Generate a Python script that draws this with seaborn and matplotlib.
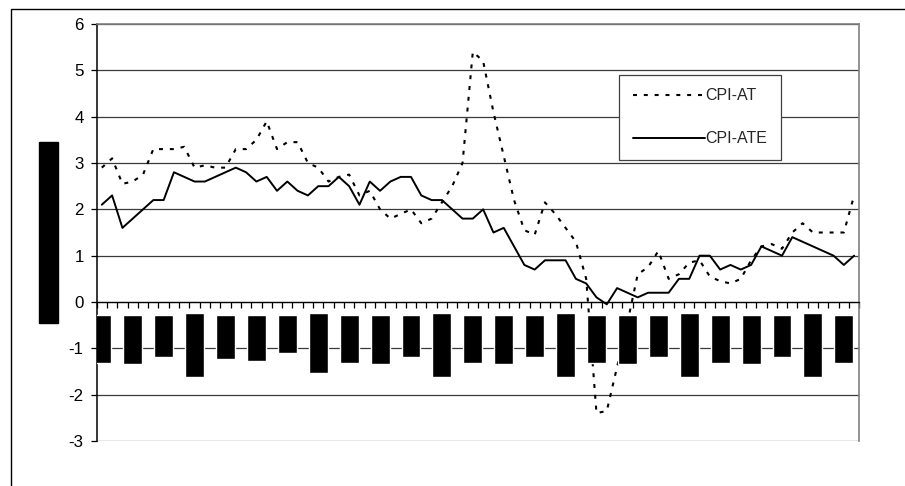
import numpy as np
import pandas as pd
import matplotlib
matplotlib.use('Agg')
import matplotlib.pyplot as plt
from matplotlib.patches import Rectangle
import seaborn as sns

# one value per month
cpi_at = [2.9, 3.1, 2.55, 2.6, 2.75, 3.3, 3.3, 3.3, 3.35, 2.9,
          2.95, 2.9, 2.9, 3.3, 3.3, 3.5, 3.9, 3.3, 3.45, 3.45,
          3.0, 2.9, 2.6, 2.7, 2.75, 2.3, 2.4, 2.0, 1.8, 1.9,
          2.0, 1.7, 1.8, 2.15, 2.5, 3.0, 5.4, 5.2, 4.1, 3.15,
          2.2, 1.55, 1.45, 2.15, 1.9, 1.6, 1.3, 0.5, -2.4, -2.35,
          -1.4, -0.45, 0.6, 0.75, 1.1, 0.5, 0.6, 0.85, 0.9, 0.55,
          0.45, 0.4, 0.5, 0.9, 1.2, 1.25, 1.15, 1.5, 1.7, 1.5,
          1.5, 1.5, 1.5, 2.3]
cpi_ate = [2.1, 2.3, 1.6, 1.8, 2.0, 2.2, 2.2, 2.8, 2.7, 2.6,
           2.6, 2.7, 2.8, 2.9, 2.8, 2.6, 2.7, 2.4, 2.6, 2.4,
           2.3, 2.5, 2.5, 2.7, 2.5, 2.1, 2.6, 2.4, 2.6, 2.7,
           2.7, 2.3, 2.2, 2.2, 2.0, 1.8, 1.8, 2.0, 1.5, 1.6,
           1.2, 0.8, 0.7, 0.9, 0.9, 0.9, 0.5, 0.4, 0.1, -0.05,
           0.3, 0.2, 0.1, 0.2, 0.2, 0.2, 0.5, 0.5, 1.0, 1.0,
           0.7, 0.8, 0.7, 0.8, 1.2, 1.1, 1.0, 1.4, 1.3, 1.2,
           1.1, 1.0, 0.8, 1.0]
series_names = ['CPI-AT', 'CPI-ATE']
y_ticks = [-3, -2, -1, 0, 1, 2, 3, 4, 5, 6]

# the x tick labels are blacked out in the source: one box every third month
label_every = 3
label_box_top = [-0.28, -0.28, -0.28, -0.23, -0.28, -0.28, -0.28, -0.23, -0.28,
                 -0.28, -0.28, -0.23, -0.28, -0.28, -0.28, -0.23, -0.28, -0.28,
                 -0.28, -0.23, -0.28, -0.28, -0.28, -0.23, -0.28]
label_box_bottom = [-1.31, -1.33, -1.18, -1.61, -1.22, -1.27, -1.09, -1.53, -1.31,
                    -1.33, -1.18, -1.61, -1.31, -1.33, -1.18, -1.61, -1.31, -1.33,
                    -1.18, -1.61, -1.31, -1.33, -1.18, -1.61, -1.31]

n = len(cpi_at)
df = pd.DataFrame({'month': np.arange(n), 'CPI-AT': cpi_at, 'CPI-ATE': cpi_ate})

sns.set_style('white')
plt.rcParams['font.family'] = ['Liberation Sans', 'DejaVu Sans']
plt.rcParams['axes.unicode_minus'] = False

fig = plt.figure(figsize=(9.05, 4.86), dpi=100)
ax = fig.add_axes([0.1068, 0.0926, 0.8427, 0.858])

sns.lineplot(data=df, x='month', y='CPI-AT', ax=ax, color='black', lw=1.5,
             linestyle=(0, (1.9, 3.3)), label=series_names[0], zorder=3)
sns.lineplot(data=df, x='month', y='CPI-ATE', ax=ax, color='black', lw=1.4,
             label=series_names[1], zorder=3)

# redaction boxes over the month labels
box_x = np.arange(0, n, label_every)[:len(label_box_top)]
box_h = np.array(label_box_bottom) - np.array(label_box_top)
ax.bar(box_x, box_h, bottom=label_box_top, width=1.84, color='black', zorder=4)

ax.set_xlim(-0.5, n - 0.5)
ax.set_ylim(-3, 6)
ax.set_yticks(y_ticks)
ax.set_yticklabels([str(t) for t in y_ticks], fontsize=12.2)
ax.set_xticks(np.arange(-0.5, n, 1))
ax.set_xticklabels([])
ax.set_xlabel('')
ax.set_ylabel('')

ax.grid(axis='y', color='#3a3a3a', lw=0.9, zorder=0)
ax.grid(axis='x', visible=False)
ax.spines['bottom'].set_position(('data', 0))
ax.spines['bottom'].set_color('black')
ax.spines['bottom'].set_linewidth(0.9)
ax.spines['left'].set_color('black')
ax.spines['left'].set_linewidth(1.1)
for side in ['top', 'right']:
    ax.spines[side].set_color('#808080')
    ax.spines[side].set_linewidth(1.2)
ax.tick_params(axis='x', direction='out', length=4, width=0.9, color='black', bottom=True)
ax.tick_params(axis='y', direction='out', length=4.3, width=0.9, color='black',
               left=True, pad=5, labelcolor='black')

leg = ax.legend(loc='upper left', bbox_to_anchor=(0.685, 0.878), borderaxespad=0,
                frameon=True, fancybox=False, shadow=False, framealpha=1,
                edgecolor='#404040', fontsize=11.5, handlelength=4.5,
                handletextpad=0.05, labelspacing=1.75, borderpad=0.85)
leg.get_frame().set_linewidth(0.9)

# outer chart border (only top and left edges are inside the crop)
fig.add_artist(Rectangle((10.5 / 905, -0.1), 1.2, 1 - 8.7 / 486 + 0.1,
                         transform=fig.transFigure, fill=False, lw=1, ec='black'))
# blacked out axis title
fig.add_artist(Rectangle((39 / 905, 1 - 323 / 486), 19 / 905, 181 / 486,
                         transform=fig.transFigure, color='black'))

fig.savefig('out.png', dpi=100)
